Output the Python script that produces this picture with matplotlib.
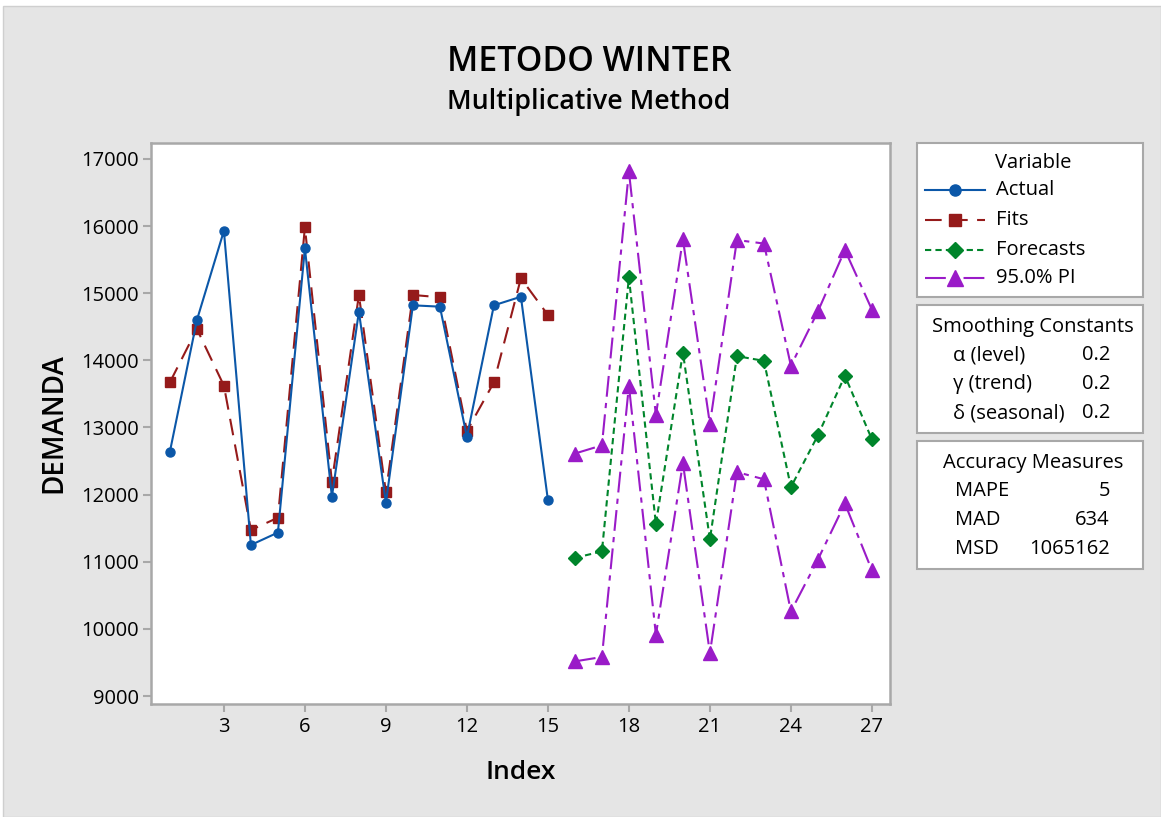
import matplotlib.pyplot as plt
from matplotlib.lines import Line2D
from matplotlib.patches import Rectangle

# datos
idx_fit = list(range(1, 16))
actual = [12640, 14600, 15930, 11250, 11435, 15670, 11970, 14725, 11880,
          14820, 14800, 12860, 14820, 14948, 11920]
fits = [13673, 14467, 13623, 11473, 11656, 15982, 12193, 14974, 12035,
        14974, 14940, 12948, 13673, 15223, 14676]

idx_fc = list(range(16, 28))
forecasts = [11058, 11154, 15235, 11564, 14117, 11334, 14063, 13993, 12112,
             12883, 13771, 12823]
pi_upper = [12612, 12734, 16815, 13186, 15804, 13053, 15793, 15740, 13920,
            14730, 15644, 14756]
pi_lower = [9516, 9581, 13623, 9913, 12470, 9640, 12336, 12229, 10260,
            11033, 11868, 10872]

x_ticks = [3, 6, 9, 12, 15, 18, 21, 24, 27]
y_ticks = list(range(9000, 17001, 1000))

smooth_labels = ["\u03b1 (level)", "\u03b3 (trend)", "\u03b4 (seasonal)"]
smooth_values = ["0.2", "0.2", "0.2"]
acc_labels = ["MAPE", "MAD", "MSD"]
acc_values = ["5", "634", "1065162"]

c_blue = "#0B57A8"
c_red = "#951A1A"
c_green = "#00852B"
c_purple = "#9A1BC8"
c_frame = "#A8A8A8"

plt.rcParams["font.family"] = ["Open Sans", "DejaVu Sans"]

W, H = 1161, 817
fig = plt.figure(figsize=(W / 100, H / 100), dpi=100, facecolor="white")


def fx(x):
    return x / W


def fy(y):
    return 1 - y / H


# fondo gris
fig.patches.append(Rectangle((fx(3), 0), 1 - fx(3), 1 - 6 / H,
                             transform=fig.transFigure, facecolor="#E5E5E5",
                             edgecolor="#CFCFCF", lw=1, zorder=-10))

ax = fig.add_axes([fx(151), fy(704), fx(890 - 151), (704 - 143) / H])
ax.set_facecolor("white")

style_actual = dict(color=c_blue, lw=1.5, marker="o", ms=6.5)
style_fits = dict(color=c_red, lw=1.5, marker="s", ms=7.5, dashes=(8, 4.5))
style_fc = dict(color=c_green, lw=1.5, marker="D", ms=7, dashes=(3, 2))
style_pi = dict(color=c_purple, lw=1.5, marker="^", ms=9.5,
                dashes=(10, 3, 2.5, 3))

ax.plot(idx_fit, fits, **style_fits)
ax.plot(idx_fit, actual, **style_actual)
ax.plot(idx_fc, pi_upper, **style_pi)
ax.plot(idx_fc, pi_lower, **style_pi)
ax.plot(idx_fc, forecasts, **style_fc)

ax.set_xlim(0.3, 27.67)
ax.set_ylim(8881, 17238)
ax.set_xticks(x_ticks)
ax.set_yticks(y_ticks)
ax.tick_params(axis="both", colors=c_frame, labelcolor="black", labelsize=14.5,
               length=6, width=1.5, pad=3)
for lbl in ax.get_xticklabels() + ax.get_yticklabels():
    lbl.set_fontweight("medium")
for s in ax.spines.values():
    s.set_color(c_frame)
    s.set_linewidth(1.8)

ax.set_xlabel("Index", fontsize=19, fontweight="semibold", labelpad=17)
ax.set_ylabel("DEMANDA", fontsize=20, fontweight="semibold", labelpad=9)

fig.text(fx(589), fy(62), "METODO WINTER", ha="center", va="center",
         fontsize=24.4, fontweight="semibold")
fig.text(fx(589), fy(102), "Multiplicative Method", ha="center", va="center",
         fontsize=19.3, fontweight="semibold")


def box(top, bottom):
    fig.patches.append(Rectangle((fx(917), fy(bottom)), fx(1143 - 917),
                                 (bottom - top) / H, transform=fig.transFigure,
                                 facecolor="white", edgecolor=c_frame, lw=1.5,
                                 zorder=1))


box(143, 297)
box(305, 433)
box(441, 569)

fs = 14.5
# leyenda Variable
fig.text(fx(1033), fy(163), "Variable", ha="center", va="center", fontsize=fs)
legend_items = [("Actual", style_actual, 190), ("Fits", style_fits, 220),
                ("Forecasts", style_fc, 250), ("95.0% PI", style_pi, 278)]
for name, st, yy in legend_items:
    st = dict(st, ms=st["ms"] + 1.5)
    ln = Line2D([fx(925), fx(955), fx(985)], [fy(yy)] * 3,
                transform=fig.transFigure, markevery=[1], zorder=3, **st)
    fig.lines.append(ln)
    fig.text(fx(996), fy(yy), name, ha="left", va="center", fontsize=fs)

# constantes de suavizado
fig.text(fx(1033), fy(327), "Smoothing Constants", ha="center", va="center",
         fontsize=fs)
for i, (lab, val) in enumerate(zip(smooth_labels, smooth_values)):
    yy = 355 + 29 * i
    fig.text(fx(953), fy(yy), lab, ha="left", va="center", fontsize=fs)
    fig.text(fx(1110), fy(yy), val, ha="right", va="center", fontsize=fs)

# medidas de exactitud
fig.text(fx(1033), fy(463), "Accuracy Measures", ha="center", va="center",
         fontsize=fs)
for i, (lab, val) in enumerate(zip(acc_labels, acc_values)):
    yy = 491 + 29 * i
    fig.text(fx(955), fy(yy), lab, ha="left", va="center", fontsize=fs)
    fig.text(fx(1110), fy(yy), val, ha="right", va="center", fontsize=fs)

fig.savefig("out.png", dpi=100, facecolor=fig.get_facecolor())
